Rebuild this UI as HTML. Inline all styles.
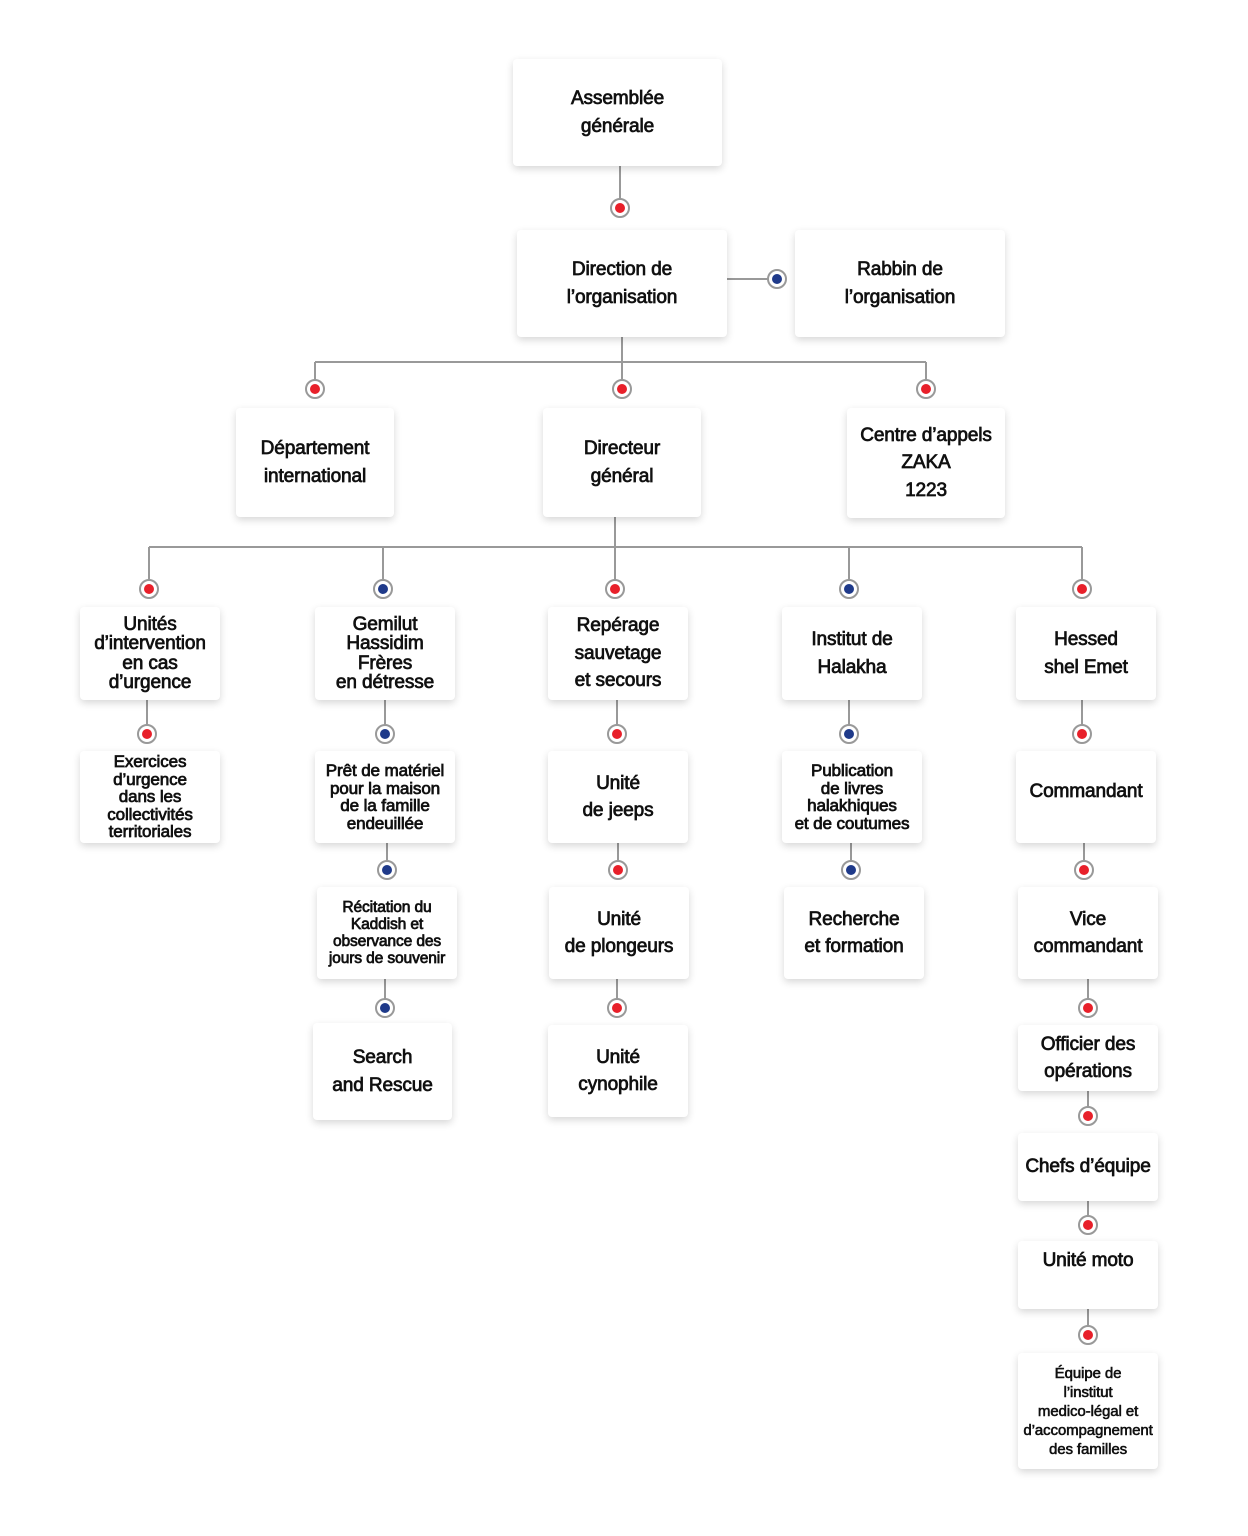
<!DOCTYPE html>
<html><head><meta charset="utf-8"><style>
body{margin:0;background:#fff;width:1248px;height:1536px;position:relative;overflow:hidden;font-family:"Liberation Sans",sans-serif;color:#111}
.b{position:absolute;background:#fff;border-radius:4px;box-shadow:0 3px 8px rgba(0,0,0,0.16);display:flex;align-items:center;justify-content:center;text-align:center;font-size:19px;line-height:27.5px;-webkit-text-stroke:0.7px #111;text-shadow:0.3px 0 0 #111;box-sizing:border-box;letter-spacing:-0.1px}
.s{font-size:19px;line-height:19.5px}
.t{font-size:17px;line-height:17.5px}
.u{font-size:15px;line-height:19px;-webkit-text-stroke:0.5px #111}
svg{position:absolute;left:0;top:0}
</style></head><body>
<svg width="1248" height="1536">
<g stroke="#999" stroke-width="2" fill="none">
<line x1="620" y1="166" x2="620" y2="200"/>
<line x1="727" y1="279" x2="769" y2="279"/>
<line x1="622" y1="337" x2="622" y2="381"/>
<line x1="315" y1="362" x2="926" y2="362"/>
<line x1="315" y1="362" x2="315" y2="381"/>
<line x1="926" y1="362" x2="926" y2="381"/>
<line x1="615" y1="517" x2="615" y2="581"/>
<line x1="149" y1="547" x2="1082" y2="547"/>
<line x1="149" y1="547" x2="149" y2="581"/>
<line x1="383" y1="547" x2="383" y2="581"/>
<line x1="849" y1="547" x2="849" y2="581"/>
<line x1="1082" y1="547" x2="1082" y2="581"/>
<line x1="147" y1="700" x2="147" y2="726"/>
<line x1="385" y1="700" x2="385" y2="726"/>
<line x1="617" y1="700" x2="617" y2="726"/>
<line x1="849" y1="700" x2="849" y2="726"/>
<line x1="1082" y1="700" x2="1082" y2="726"/>
<line x1="387" y1="843" x2="387" y2="862"/>
<line x1="618" y1="843" x2="618" y2="862"/>
<line x1="851" y1="843" x2="851" y2="862"/>
<line x1="1084" y1="843" x2="1084" y2="862"/>
<line x1="385" y1="979" x2="385" y2="1000"/>
<line x1="617" y1="979" x2="617" y2="1000"/>
<line x1="1088" y1="979" x2="1088" y2="1000"/>
<line x1="1088" y1="1091" x2="1088" y2="1108"/>
<line x1="1088" y1="1201" x2="1088" y2="1217"/>
<line x1="1088" y1="1309" x2="1088" y2="1327"/>
</g>
<g fill="#fff" stroke="#999" stroke-width="2">
<circle cx="620" cy="208" r="9"/><circle cx="777" cy="279" r="9"/>
<circle cx="315" cy="389" r="9"/><circle cx="622" cy="389" r="9"/><circle cx="926" cy="389" r="9"/>
<circle cx="149" cy="589" r="9"/><circle cx="383" cy="589" r="9"/><circle cx="615" cy="589" r="9"/><circle cx="849" cy="589" r="9"/><circle cx="1082" cy="589" r="9"/>
<circle cx="147" cy="734" r="9"/><circle cx="385" cy="734" r="9"/><circle cx="617" cy="734" r="9"/><circle cx="849" cy="734" r="9"/><circle cx="1082" cy="734" r="9"/>
<circle cx="387" cy="870" r="9"/><circle cx="618" cy="870" r="9"/><circle cx="851" cy="870" r="9"/><circle cx="1084" cy="870" r="9"/>
<circle cx="385" cy="1008" r="9"/><circle cx="617" cy="1008" r="9"/><circle cx="1088" cy="1008" r="9"/>
<circle cx="1088" cy="1116" r="9"/><circle cx="1088" cy="1225" r="9"/><circle cx="1088" cy="1335" r="9"/>
</g>
<g fill="#e8202a">
<circle cx="620" cy="208" r="5"/><circle cx="315" cy="389" r="5"/><circle cx="622" cy="389" r="5"/><circle cx="926" cy="389" r="5"/>
<circle cx="149" cy="589" r="5"/><circle cx="615" cy="589" r="5"/><circle cx="1082" cy="589" r="5"/>
<circle cx="147" cy="734" r="5"/><circle cx="617" cy="734" r="5"/><circle cx="1082" cy="734" r="5"/>
<circle cx="618" cy="870" r="5"/><circle cx="1084" cy="870" r="5"/>
<circle cx="617" cy="1008" r="5"/><circle cx="1088" cy="1008" r="5"/>
<circle cx="1088" cy="1116" r="5"/><circle cx="1088" cy="1225" r="5"/><circle cx="1088" cy="1335" r="5"/>
</g>
<g fill="#1f3a8a">
<circle cx="777" cy="279" r="5"/><circle cx="383" cy="589" r="5"/><circle cx="849" cy="589" r="5"/>
<circle cx="385" cy="734" r="5"/><circle cx="849" cy="734" r="5"/>
<circle cx="387" cy="870" r="5"/><circle cx="851" cy="870" r="5"/><circle cx="385" cy="1008" r="5"/>
</g>
</svg>
<div class="b" style="left:513px;top:59px;width:209px;height:107px">Assemblée<br>générale</div>
<div class="b" style="left:517px;top:230px;width:210px;height:107px">Direction de<br>l’organisation</div>
<div class="b" style="left:795px;top:230px;width:210px;height:107px">Rabbin de<br>l’organisation</div>
<div class="b" style="left:236px;top:408px;width:158px;height:109px">Département<br>international</div>
<div class="b" style="left:543px;top:408px;width:158px;height:109px">Directeur<br>général</div>
<div class="b" style="left:847px;top:408px;width:158px;height:110px">Centre d’appels<br>ZAKA<br>1223</div>

<div class="b s" style="left:80px;top:607px;width:140px;height:93px">Unités<br>d’intervention<br>en cas<br>d’urgence</div>
<div class="b s" style="left:315px;top:607px;width:140px;height:93px">Gemilut<br>Hassidim<br>Frères<br>en détresse</div>
<div class="b" style="left:548px;top:607px;width:140px;height:93px">Repérage<br>sauvetage<br>et secours</div>
<div class="b" style="left:782px;top:607px;width:140px;height:93px">Institut de<br>Halakha</div>
<div class="b" style="left:1016px;top:607px;width:140px;height:93px">Hessed<br>shel Emet</div>

<div class="b t" style="left:80px;top:751px;width:140px;height:92px">Exercices<br>d’urgence<br>dans les<br>collectivités<br>territoriales</div>
<div class="b t" style="left:315px;top:751px;width:140px;height:92px">Prêt de matériel<br>pour la maison<br>de la famille<br>endeuillée</div>
<div class="b" style="left:548px;top:751px;width:140px;height:92px">Unité<br>de jeeps</div>
<div class="b t" style="left:782px;top:751px;width:140px;height:92px">Publication<br>de livres<br>halakhiques<br>et de coutumes</div>
<div class="b" style="left:1016px;top:751px;width:140px;height:92px;padding-bottom:10px">Commandant</div>

<div class="b t" style="left:317px;top:887px;width:140px;height:92px;font-size:15.5px;line-height:17px">Récitation du<br>Kaddish et<br>observance des<br>jours de souvenir</div>
<div class="b" style="left:549px;top:887px;width:140px;height:92px">Unité<br>de plongeurs</div>
<div class="b" style="left:784px;top:887px;width:140px;height:92px">Recherche<br>et formation</div>
<div class="b" style="left:1018px;top:887px;width:140px;height:92px">Vice<br>commandant</div>

<div class="b" style="left:313px;top:1023px;width:139px;height:97px">Search<br>and Rescue</div>
<div class="b" style="left:548px;top:1025px;width:140px;height:92px">Unité<br>cynophile</div>
<div class="b" style="left:1018px;top:1025px;width:140px;height:66px">Officier des<br>opérations</div>
<div class="b" style="left:1018px;top:1133px;width:140px;height:68px">Chefs d’équipe</div>
<div class="b" style="left:1018px;top:1241px;width:140px;height:68px;align-items:flex-start;padding-top:6px">Unité moto</div>
<div class="b u" style="left:1018px;top:1353px;width:140px;height:116px">Équipe de<br>l’institut<br>medico-légal et<br>d’accompagnement<br>des familles</div>
</body></html>
